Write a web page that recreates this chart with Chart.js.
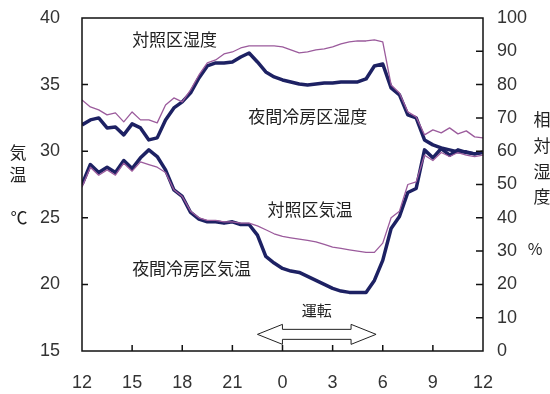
<!DOCTYPE html>
<html>
<head>
<meta charset="utf-8">
<script src="https://cdn.jsdelivr.net/npm/chart.js@4.4.1/dist/chart.umd.min.js"></script>
<style>
    html, body { margin: 0; padding: 0; background: #fff; }
    #wrap { width: 550px; height: 394px; }
</style>
</head>
<body>
<div id="wrap"><canvas id="tempChart" width="550" height="394"></canvas></div>
<script>
// hours since 12:00
const hours = [0, 0.5, 1, 1.5, 2, 2.5, 3, 3.5, 4, 4.5, 5, 5.5, 6, 6.5, 7, 7.5, 8, 8.5, 9, 9.5,
    10, 10.5, 11, 11.5, 12, 12.5, 13, 13.5, 14, 14.5, 15, 15.5, 16, 16.5, 17, 17.5, 18, 18.5, 19, 19.5,
    20, 20.5, 21, 21.5, 22, 22.5, 23, 23.5, 24];

// 対照区湿度 (%)
const ctrlHumid = [75.4, 73.3, 72.4, 70.9, 71.5, 68.8, 71.8, 69.4, 69.4, 68.5, 73.9, 76.0, 74.8, 78.4, 82.9, 86.5, 87.4, 89.2, 89.8, 91.0,
    91.6, 91.6, 91.6, 91.6, 91.3, 90.4, 89.5, 89.8, 90.4, 90.7, 91.3, 92.2, 92.8, 93.1, 93.1, 93.4, 92.8, 79.9, 77.5, 71.8,
    70.3, 64.9, 66.4, 65.5, 67.0, 65.2, 66.1, 64.3, 64.0];

// 夜間冷房区湿度 (%)
const coolHumid = [67.9, 69.4, 70.0, 67.0, 67.3, 64.9, 68.2, 67.0, 63.4, 64.0, 69.4, 73.0, 74.8, 77.5, 82.0, 85.6, 86.5, 86.5, 86.8, 88.3,
    89.5, 86.8, 83.8, 82.3, 81.4, 80.8, 80.2, 79.9, 80.2, 80.5, 80.5, 80.8, 80.8, 80.8, 81.7, 85.6, 86.2, 79.0, 76.9, 70.9,
    70.0, 63.4, 61.9, 61.0, 60.4, 59.8, 59.8, 59.2, 59.8];

// 対照区気温 (°C)
const ctrlTemp = [27.3, 28.8, 28.2, 28.6, 28.2, 29.1, 28.5, 29.2, 29.0, 28.8, 28.4, 27.1, 26.6, 25.5, 25.0, 24.8, 24.8, 24.7, 24.7, 24.6,
    24.6, 24.4, 24.1, 23.8, 23.6, 23.5, 23.4, 23.3, 23.2, 23.0, 22.8, 22.7, 22.6, 22.5, 22.4, 22.4, 23.1, 25.0, 25.5, 27.5,
    27.7, 29.7, 29.3, 29.9, 29.6, 29.9, 29.7, 29.6, 29.7];

// 夜間冷房区気温 (°C)
const coolTemp = [27.5, 29.0, 28.4, 28.8, 28.4, 29.3, 28.7, 29.5, 30.1, 29.6, 28.6, 27.1, 26.6, 25.4, 24.9, 24.7, 24.7, 24.6, 24.7, 24.5,
    24.5, 23.7, 22.1, 21.6, 21.2, 21.0, 20.9, 20.6, 20.3, 20.0, 19.7, 19.5, 19.4, 19.4, 19.4, 20.3, 21.8, 24.2, 25.1, 26.9,
    27.2, 30.1, 29.5, 30.2, 29.7, 30.1, 29.9, 29.8, 29.9];

const xTicks = [0, 3, 6, 9, 12, 15, 18, 21, 24];
const xTickLabels = ['12', '15', '18', '21', '0', '3', '6', '9', '12'];
const tempTicks = [15, 20, 25, 30, 35, 40];
const humidTicks = [0, 10, 20, 30, 40, 50, 60, 70, 80, 90, 100];

// 運転 period (hours since 12:00) and its height on the % axis
const runPeriod = [10.5, 17.6];
const runLevel = 5;

// text labels: [text, hour, value, axis, align]
const seriesLabels = [
    ['対照区湿度', 3.0, 93.4, 'yR', 'left'],
    ['夜間冷房区湿度', 9.95, 70.3, 'yR', 'left'],
    ['対照区気温', 11.1, 25.6, 'yL', 'left'],
    ['夜間冷房区気温', 3.0, 21.2, 'yL', 'left']
];

const NAVY = '#1d2163';
const PURPLE = '#9b5b9c';
const numFont = { family: "'Liberation Sans', Arial, sans-serif", size: 18 };
const jpFont = "'Noto Sans CJK JP', sans-serif";

function toPoints(vals) {
    return hours.map((h, i) => ({ x: h, y: vals[i] }));
}

// fixed axis box sizes, no automatic label padding
function fixWidth(w) {
    return s => {
        s.width = w;
        s.paddingTop = 0;
        s.paddingBottom = 0;
    };
}

const decorPlugin = {
    id: 'decor',
    afterDraw(chart) {
        const ctx = chart.ctx;
        const a = chart.chartArea;
        const sx = chart.scales.x, yL = chart.scales.yL, yR = chart.scales.yR;
        ctx.save();

        // frame
        ctx.strokeStyle = '#111';
        ctx.lineWidth = 1.5;
        ctx.strokeRect(a.left, a.top, a.right - a.left, a.bottom - a.top);

        // inward tick marks
        ctx.beginPath();
        xTicks.slice(1, -1).forEach(v => {
            const px = sx.getPixelForValue(v);
            ctx.moveTo(px, a.bottom); ctx.lineTo(px, a.bottom - 6);
        });
        tempTicks.slice(1, -1).forEach(v => {
            const py = yL.getPixelForValue(v);
            ctx.moveTo(a.left, py); ctx.lineTo(a.left + 6, py);
        });
        humidTicks.slice(1, -1).forEach(v => {
            const py = yR.getPixelForValue(v);
            ctx.moveTo(a.right, py); ctx.lineTo(a.right - 7, py);
        });
        ctx.stroke();

        // series labels
        ctx.fillStyle = '#222';
        ctx.textBaseline = 'middle';
        ctx.font = '17px ' + jpFont;
        seriesLabels.forEach(l => {
            ctx.textAlign = l[4];
            ctx.fillText(l[0], sx.getPixelForValue(l[1]), chart.scales[l[3]].getPixelForValue(l[2]));
        });

        // 運転 arrow
        const x1 = sx.getPixelForValue(runPeriod[0]);
        const x2 = sx.getPixelForValue(runPeriod[1]);
        const yc = yR.getPixelForValue(runLevel);
        const head = 25, sh = 5, hh = 10;
        ctx.beginPath();
        ctx.moveTo(x1, yc);
        ctx.lineTo(x1 + head, yc - hh);
        ctx.lineTo(x1 + head, yc - sh);
        ctx.lineTo(x2 - head, yc - sh);
        ctx.lineTo(x2 - head, yc - hh);
        ctx.lineTo(x2, yc);
        ctx.lineTo(x2 - head, yc + hh);
        ctx.lineTo(x2 - head, yc + sh);
        ctx.lineTo(x1 + head, yc + sh);
        ctx.lineTo(x1 + head, yc + hh);
        ctx.closePath();
        ctx.fillStyle = '#fff';
        ctx.fill();
        ctx.strokeStyle = '#222';
        ctx.lineWidth = 1;
        ctx.stroke();
        ctx.fillStyle = '#222';
        ctx.textAlign = 'center';
        ctx.font = '15px ' + jpFont;
        ctx.fillText('運転', (x1 + x2) / 2, yc - 24);

        // axis titles
        ctx.font = '17px ' + jpFont;
        ctx.fillText('気', 18, 153);
        ctx.fillText('温', 18, 175);
        ctx.fillText('℃', 19, 218);
        ctx.fillText('相', 542, 120);
        ctx.fillText('対', 542, 146);
        ctx.fillText('湿', 542, 172);
        ctx.fillText('度', 542, 197);
        ctx.font = '16px ' + jpFont;
        ctx.fillText('%', 535, 249);
        ctx.restore();
    }
};

const ctx = document.getElementById('tempChart').getContext('2d');
const tempChart = new Chart(ctx, {
    type: 'line',
    data: {
        datasets: [
            { label: '対照区湿度', data: toPoints(ctrlHumid), yAxisID: 'yR', borderColor: PURPLE, borderWidth: 1.3 },
            { label: '対照区気温', data: toPoints(ctrlTemp), yAxisID: 'yL', borderColor: PURPLE, borderWidth: 1.3 },
            { label: '夜間冷房区湿度', data: toPoints(coolHumid), yAxisID: 'yR', borderColor: NAVY, borderWidth: 3.5 },
            { label: '夜間冷房区気温', data: toPoints(coolTemp), yAxisID: 'yL', borderColor: NAVY, borderWidth: 3.5 }
        ]
    },
    options: {
        responsive: false,
        animation: false,
        layout: { padding: { top: 18, left: 0, right: 0, bottom: 0 } },
        elements: { point: { radius: 0 }, line: { tension: 0, borderJoinStyle: 'round' } },
        plugins: { legend: { display: false }, tooltip: { enabled: false } },
        scales: {
            x: {
                type: 'linear',
                min: 0,
                max: 24,
                afterBuildTicks: s => { s.ticks = xTicks.map(v => ({ value: v })); },
                afterFit: s => { s.height = 43; s.paddingLeft = 0; s.paddingRight = 0; },
                grid: { display: false },
                border: { display: false },
                ticks: {
                    font: numFont,
                    color: '#333',
                    padding: 13,
                    maxRotation: 0,
                    callback: v => xTickLabels[xTicks.indexOf(v)]
                }
            },
            yL: {
                position: 'left',
                min: 15,
                max: 40,
                afterBuildTicks: s => { s.ticks = tempTicks.map(v => ({ value: v })); },
                afterFit: fixWidth(82),
                grid: { display: false },
                border: { display: false },
                ticks: { font: numFont, color: '#333', padding: 14 }
            },
            yR: {
                position: 'right',
                min: 0,
                max: 100,
                afterBuildTicks: s => { s.ticks = humidTicks.map(v => ({ value: v })); },
                afterFit: fixWidth(67),
                grid: { display: false },
                border: { display: false },
                ticks: { font: numFont, color: '#333', padding: 6 }
            }
        }
    },
    plugins: [decorPlugin]
});
</script>
</body>
</html>
